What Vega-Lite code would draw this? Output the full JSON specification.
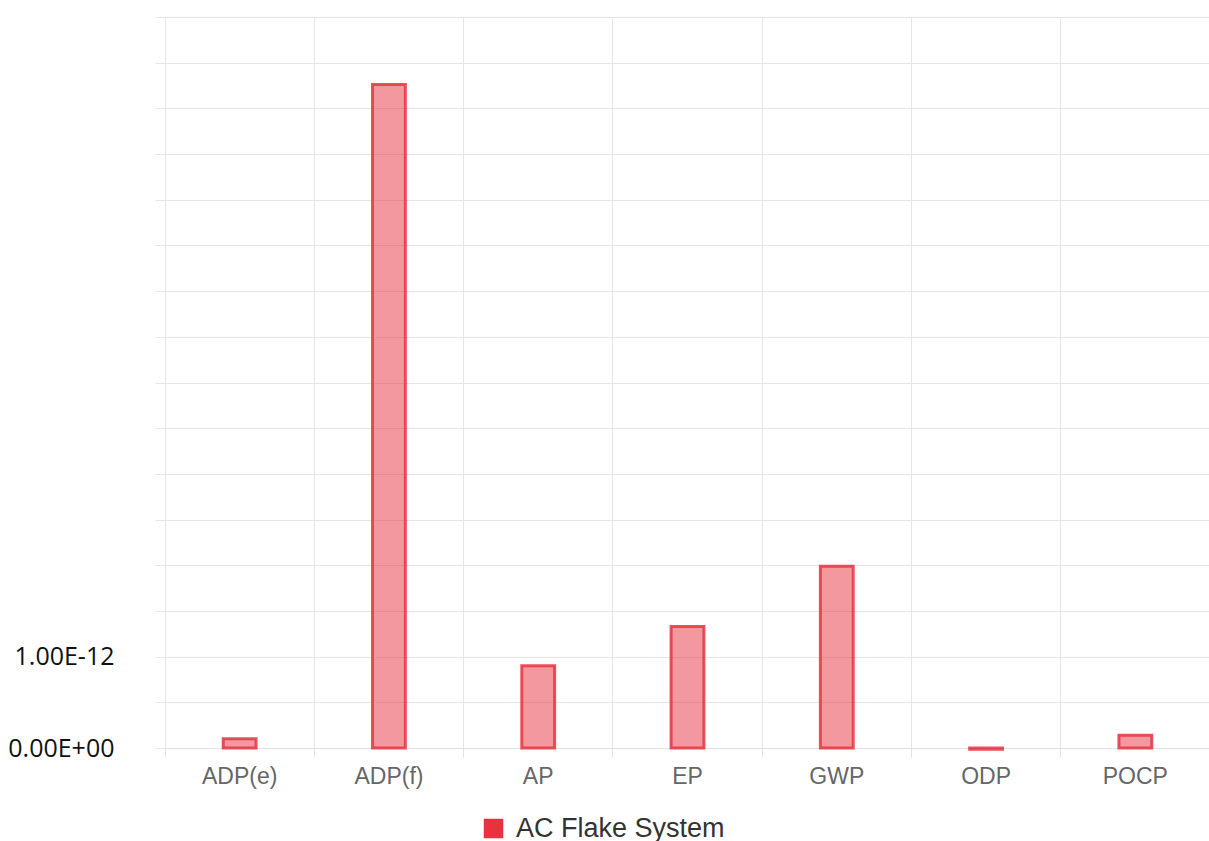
{
  "$schema": "https://vega.github.io/schema/vega-lite/v6.json",
  "autosize": {"type": "none"},
  "padding": {"left": 165, "top": 17, "right": 0, "bottom": 93},
  "width": 1045,
  "height": 731,
  "background": "white",
  "data": {
    "values": [
      {"category": "ADP(e)", "value": 1.0e-13, "series": "AC Flake System"},
      {"category": "ADP(f)", "value": 7.26e-12, "series": "AC Flake System"},
      {"category": "AP", "value": 9.0e-13, "series": "AC Flake System"},
      {"category": "EP", "value": 1.33e-12, "series": "AC Flake System"},
      {"category": "GWP", "value": 1.99e-12, "series": "AC Flake System"},
      {"category": "ODP", "value": -1.5e-14, "series": "AC Flake System"},
      {"category": "POCP", "value": 1.4e-13, "series": "AC Flake System"}
    ]
  },
  "mark": {"type": "bar", "fillOpacity": 0.5, "strokeWidth": 3, "strokeOpacity": 0.85, "width": {"band": 0.22}},
  "encoding": {
    "x": {
      "field": "category",
      "type": "nominal",
      "sort": null,
      "scale": {"paddingInner": 0, "paddingOuter": 0},
      "axis": {
        "title": null,
        "labelAngle": 0,
        "labelFont": "Liberation Sans",
        "labelFontSize": 23,
        "labelColor": "#666666",
        "labelPadding": 8,
        "bandPosition": 0,
        "grid": true,
        "gridColor": "#e6e6e6",
        "domainColor": "#e0e0e0",
        "tickColor": "#e0e0e0",
        "tickSize": 9
      }
    },
    "y": {
      "field": "value",
      "type": "quantitative",
      "scale": {"domain": [0, 8e-12], "nice": false},
      "axis": {
        "title": null,
        "values": [0, 5e-13, 1e-12, 1.5e-12, 2e-12, 2.5e-12, 3e-12, 3.5e-12, 4e-12, 4.5e-12, 5e-12, 5.5e-12, 6e-12, 6.5e-12, 7e-12, 7.5e-12, 8e-12],
        "labelExpr": "datum.value == 0 ? '0.00E+00' : (abs(datum.value - 1e-12) < 1e-15 ? '1.00E-12' : '')",
        "labelFont": "Open Sans",
        "labelFontSize": 25,
        "labelColor": "#111111",
        "labelPadding": 41,
        "domain": false,
        "tickSize": 10,
        "tickColor": "#e6e6e6",
        "gridColor": "#e6e6e6"
      }
    },
    "color": {
      "field": "series",
      "type": "nominal",
      "scale": {"range": ["#e8323f"]},
      "legend": {
        "title": null,
        "orient": "none",
        "legendX": 315,
        "legendY": 798,
        "symbolType": "square",
        "symbolSize": 380,
        "symbolOpacity": 1,
        "symbolFillColor": "#e8323f",
        "symbolStrokeWidth": 0,
        "labelFont": "Liberation Sans",
        "labelFontSize": 27,
        "labelLimit": 500,
        "labelColor": "#333333",
        "labelOffset": 9
      }
    },
    "stroke": {"field": "series", "type": "nominal", "scale": {"range": ["#e8323f"]}, "legend": null}
  },
  "config": {"view": {"stroke": null}}
}
